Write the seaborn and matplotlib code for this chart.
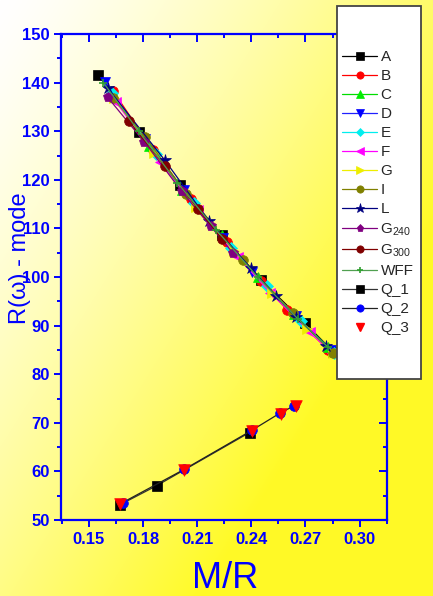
import numpy as np
import pandas as pd
import matplotlib
matplotlib.use("Agg")
import matplotlib.pyplot as plt
import seaborn as sns
from matplotlib.patches import Rectangle
from matplotlib.lines import Line2D
from matplotlib.ticker import MultipleLocator

# ---------------- data ----------------
A_x = [0.1552, 0.178, 0.2005, 0.2235, 0.2455, 0.2698, 0.2855]
A_y = [141.6, 129.9, 118.9, 108.6, 99.4, 90.5, 84.6]
B_x = [0.1635, 0.1855, 0.2065, 0.2265, 0.2455, 0.2596, 0.2827]
B_y = [138.2, 126.1, 116.0, 107.1, 99.2, 93.3, 85.0]
C_x = [0.162, 0.1835, 0.2015, 0.2235, 0.2435, 0.2635, 0.2825]
C_y = [138.3, 127.0, 118.0, 108.6, 100.0, 92.3, 85.6]
D_x = [0.1589, 0.181, 0.2025, 0.2245, 0.2405, 0.2645, 0.284]
D_y = [140.1, 128.3, 117.9, 108.0, 101.1, 91.9, 85.0]
E_x = [0.1625, 0.187, 0.208, 0.229, 0.2485, 0.2675, 0.286]
E_y = [137.9, 125.3, 115.3, 106.0, 98.1, 90.9, 84.4]
F_x = [0.165, 0.1895, 0.2105, 0.2325, 0.2505, 0.2725, 0.2845]
F_y = [136.0, 123.6, 113.7, 104.1, 96.8, 88.6, 84.4]
G_x = [0.164, 0.186, 0.2095, 0.2305, 0.2515, 0.271, 0.2855]
G_y = [136.9, 125.6, 114.5, 105.3, 96.8, 89.4, 84.4]
I_x = [0.1633, 0.1811, 0.204, 0.2355, 0.2633, 0.2851]
I_y = [136.9, 128.9, 117.1, 103.5, 92.5, 84.4]
L_x = [0.1603, 0.1921, 0.2165, 0.2398, 0.2535, 0.2648, 0.2815]
L_y = [138.9, 124.0, 111.5, 101.8, 96.1, 91.7, 85.9]
G240_x = [0.1603, 0.1807, 0.2014, 0.2175, 0.2297]
G240_y = [137.0, 127.8, 117.6, 110.4, 105.0]
G300_x = [0.1723, 0.1921, 0.2106, 0.2236]
G300_y = [132.0, 122.8, 113.9, 107.9]
WFF_x = [0.158, 0.1775, 0.199, 0.2205, 0.2435, 0.266, 0.2827]
WFF_y = [140.0, 130.0, 119.4, 109.7, 100.0, 91.3, 85.5]
Q1_x = [0.167, 0.1875, 0.239]
Q1_y = [53.1, 57.05, 68.0]
Q2_x = [0.1687, 0.2027, 0.2405, 0.2559, 0.2638]
Q2_y = [53.6, 60.4, 68.5, 72.0, 73.5]
Q3_x = [0.1672, 0.2025, 0.2405, 0.2562, 0.2645]
Q3_y = [53.3, 60.2, 68.3, 71.8, 73.4]

x_ticks = [0.15, 0.18, 0.21, 0.24, 0.27, 0.30]
x_tick_labels = ["0.15", "0.18", "0.21", "0.24", "0.27", "0.30"]
y_ticks = [50, 60, 70, 80, 90, 100, 110, 120, 130, 140, 150]

# (label, x, y, line colour, marker, marker colour)
series = [
    ("A", A_x, A_y, "black", "s", "black"),
    ("B", B_x, B_y, "#ff0000", "o", "#ff0000"),
    ("C", C_x, C_y, "#00dd00", "^", "#00ee00"),
    ("D", D_x, D_y, "#2020ff", "v", "#0000ff"),
    ("E", E_x, E_y, "#00eeee", "D", "#00eeee"),
    ("F", F_x, F_y, "#ff00ff", "<", "#ff00ff"),
    ("G", G_x, G_y, "#eeee00", ">", "#eeee00"),
    ("I", I_x, I_y, "#808000", "o", "#808000"),
    ("L", L_x, L_y, "#000080", "*", "#000080"),
    ("G$_{240}$", G240_x, G240_y, "#800080", "p", "#800080"),
    ("G$_{300}$", G300_x, G300_y, "#800000", "o", "#800000"),
    ("WFF", WFF_x, WFF_y, "#50a050", "+", "#30a030"),
    ("Q_1", Q1_x, Q1_y, "#333333", "s", "black"),
    ("Q_2", Q2_x, Q2_y, "#222222", "o", "#0000ff"),
]

# ---------------- style ----------------
sns.set_theme(style="ticks")
plt.rcParams["font.family"] = ["Liberation Sans", "DejaVu Sans"]
plt.rcParams["mathtext.fontset"] = "custom"
plt.rcParams["mathtext.rm"] = "Liberation Sans"
plt.rcParams["mathtext.it"] = "Liberation Sans:italic"
plt.rcParams["mathtext.bf"] = "Liberation Sans:bold"

BLUE = "#0000ff"
W, H = 433, 596
fig = plt.figure(figsize=(W / 100, H / 100), dpi=100)

# gradient background (white top-left -> yellow bottom-right)
bg = fig.add_axes([0, 0, 1, 1], zorder=-10)
gx = np.linspace(0, 1, 200)[None, :]
gy = np.linspace(0, 1, 280)[:, None]
t = np.clip(0.75 * gx + 0.65 * gy, 0, 1) ** 1.3
img = np.zeros((280, 200, 3))
img[..., 0] = 1.0
img[..., 1] = 1.0 - 0.02 * t
img[..., 2] = 1.0 - 0.85 * t
bg.imshow(img, aspect="auto", extent=[0, 1, 0, 1], interpolation="bilinear")
bg.axis("off")

ax = fig.add_axes([61 / W, 1 - 520 / H, 326 / W, 486 / H])
ax.set_facecolor("none")

handles, labels = [], []
for lab, xs, ys, lc, mk, mc in series:
    df = pd.DataFrame({"x": xs, "y": ys})
    ms = 9 if mk == "*" else (6 if mk in ("D", "+") else 7)
    sns.lineplot(data=df, x="x", y="y", ax=ax, color=lc, marker=mk,
                 markersize=ms, markerfacecolor=mc, markeredgecolor=mc,
                 markeredgewidth=1.2 if mk == "+" else 0.5,
                 linewidth=0.9, sort=False, estimator=None, legend=False)
    handles.append(Line2D([], [], color=lc, marker=mk, markersize=ms * 0.75,
                          markerfacecolor=mc, markeredgecolor=mc,
                          markeredgewidth=1.2 if mk == "+" else 0.5, linewidth=0.9))
    labels.append(lab)

df3 = pd.DataFrame({"x": Q3_x, "y": Q3_y})
sns.scatterplot(data=df3, x="x", y="y", ax=ax, marker="v", s=70, color="#ff0000",
                edgecolor="#ff0000", linewidth=0.5, legend=False, zorder=3)
handles.append(Line2D([], [], ls="none", marker="v", color="#ff0000", markersize=6))
labels.append("Q_3")

ax.set_xlim(0.1345, 0.3152)
ax.set_ylim(50, 150)
ax.set_xticks(x_ticks)
ax.set_xticklabels(x_tick_labels)
ax.set_yticks(y_ticks)
ax.xaxis.set_minor_locator(MultipleLocator(0.015))
ax.yaxis.set_minor_locator(MultipleLocator(5))
ax.set_xlabel("")
ax.set_ylabel("")

for sp in ax.spines.values():
    sp.set_visible(True)
    sp.set_color(BLUE)
    sp.set_linewidth(1.6)

ax.tick_params(axis="both", which="both", direction="out", color=BLUE, width=1.4,
               labelcolor=BLUE, top=False, right=False)
ax.tick_params(axis="both", which="major", length=5)
ax.tick_params(axis="both", which="minor", length=3)
ax.tick_params(axis="x", pad=4)
ax.tick_params(axis="y", pad=3)
for lbl in ax.get_xticklabels() + ax.get_yticklabels():
    lbl.set_fontsize(12)
    lbl.set_fontweight("bold")

# inward ticks on top and right
ax2 = fig.add_axes(ax.get_position(), sharex=ax, sharey=ax)
ax2.set_facecolor("none")
ax2.tick_params(axis="both", which="both", direction="in", color=BLUE, width=1.4,
                left=False, bottom=False, top=True, right=True,
                labelleft=False, labelbottom=False, labeltop=False, labelright=False)
ax2.tick_params(axis="both", which="major", length=6)
ax2.tick_params(axis="both", which="minor", length=3)
for sp in ax2.spines.values():
    sp.set_visible(False)
ax2.set_xlabel("")
ax2.set_ylabel("")

# axis titles
fig.text(225 / W, 1 - 588 / H, "M/R", color=BLUE, fontsize=26, ha="center", va="baseline")
fig.text(20 / W, 1 - 258 / H, "R(ω) - mode", color=BLUE, fontsize=17, rotation=90,
         ha="center", va="center")

# legend box
rect = Rectangle((337 / W, 1 - 379 / H), 84 / W, 373 / H, transform=fig.transFigure,
                 facecolor="white", edgecolor="#444444", linewidth=1.3, zorder=4)
fig.add_artist(rect)
leg = fig.legend(handles, labels, loc="upper left", bbox_to_anchor=(342 / W, 1 - 50 / H),
                 frameon=False, fontsize=11, handlelength=2.3, handletextpad=0.22,
                 labelspacing=0.33, borderpad=0, borderaxespad=0)
leg.set_zorder(5)

fig.savefig("out.png", dpi=100)
